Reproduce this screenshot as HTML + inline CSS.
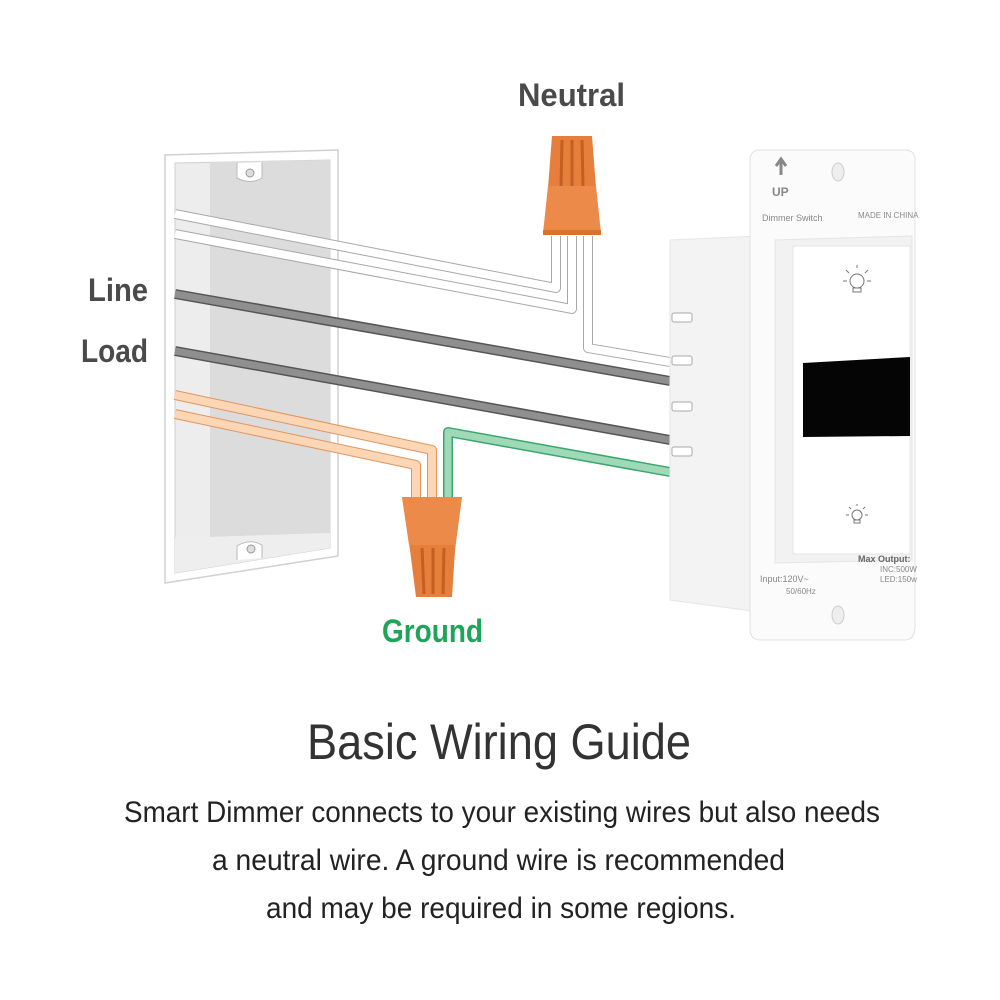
<!DOCTYPE html>
<html><head><meta charset="utf-8"><style>
html,body{margin:0;padding:0;background:#fff}
svg{display:block}
</style></head><body>
<svg width="1000" height="1000" viewBox="0 0 1000 1000" xmlns="http://www.w3.org/2000/svg">
<!-- box -->
<polygon points="165,155 338,150 338,556 165,583" fill="#fff" stroke="#d0d0d0" stroke-width="1.5"/>
<polygon points="175,163 330,160 330,548 175,573" fill="#ededed" stroke="#cfcfcf" stroke-width="1"/>
<polygon points="210,162 330,160 330,533 210,537" fill="#dcdcdc"/>
<polygon points="175,537 210,537 330,533 330,548 175,573" fill="#eeeeee"/>
<path d="M237,163 L237,178 Q250,185 262,178 L262,162" fill="#fff" stroke="#bbb" stroke-width="1"/>
<circle cx="250" cy="173" r="4" fill="#ddd" stroke="#999"/>
<path d="M237,560 L237,546 Q250,538 262,545 L262,558" fill="#fff" stroke="#bbb" stroke-width="1"/>
<circle cx="251" cy="549" r="4" fill="#ddd" stroke="#999"/>
<!-- wires -->
<g fill="none" stroke-linejoin="round">
<path d="M175,214 L556,288 L556,236" stroke="#a8a8a8" stroke-width="10"/>
<path d="M175,214 L556,288 L556,236" stroke="#fff" stroke-width="8"/>
<path d="M175,234 L572,309 L572,236" stroke="#a8a8a8" stroke-width="10"/>
<path d="M175,234 L572,309 L572,236" stroke="#fff" stroke-width="8"/>
<path d="M588,236 L588,348 L670,362" stroke="#a8a8a8" stroke-width="10"/>
<path d="M588,236 L588,348 L670,362" stroke="#fff" stroke-width="8"/>
<path d="M175,294 L670,381" stroke="#555" stroke-width="10"/>
<path d="M175,294 L670,381" stroke="#8f8f8f" stroke-width="7"/>
<path d="M175,351 L670,440" stroke="#555" stroke-width="10"/>
<path d="M175,351 L670,440" stroke="#8f8f8f" stroke-width="7"/>
<path d="M175,395 L432,450 L432,500" stroke="#e0955f" stroke-width="10"/>
<path d="M175,395 L432,450 L432,500" stroke="#fdd6b6" stroke-width="8"/>
<path d="M175,414 L416,465 L416,500" stroke="#e0955f" stroke-width="10"/>
<path d="M175,414 L416,465 L416,500" stroke="#fdd6b6" stroke-width="8"/>
<path d="M448,500 L448,432 L670,472" stroke="#3aa86b" stroke-width="10"/>
<path d="M448,500 L448,432 L670,472" stroke="#9fd9b8" stroke-width="7"/>
</g>
<!-- neutral connector -->
<polygon points="552,136 592,136 596,188 601,234 543,234 548,188" fill="#e67e3c"/>
<polygon points="548,186 596,186 601,234 543,234" fill="#ec8a4a"/>
<line x1="562" y1="140" x2="561" y2="186" stroke="#c45f22" stroke-width="3"/>
<line x1="572" y1="140" x2="572" y2="186" stroke="#c45f22" stroke-width="3"/>
<line x1="582" y1="140" x2="583" y2="186" stroke="#c45f22" stroke-width="3"/>
<rect x="543" y="230" width="58" height="5" fill="#d9722f"/>
<!-- ground connector -->
<polygon points="402,497 462,497 455,550 452,597 416,597 410,550" fill="#e67e3c"/>
<polygon points="402,497 462,497 455,545 409,545" fill="#ec8a4a"/>
<line x1="422" y1="548" x2="424" y2="594" stroke="#c45f22" stroke-width="3"/>
<line x1="433" y1="548" x2="433" y2="594" stroke="#c45f22" stroke-width="3"/>
<line x1="444" y1="548" x2="443" y2="594" stroke="#c45f22" stroke-width="3"/>
<!-- switch body -->
<polygon points="670,240 760,236 760,612 670,600" fill="#f3f3f3" stroke="#e6e6e6"/>
<g fill="#fff" stroke="#aaa" stroke-width="1">
<rect x="672" y="313" width="20" height="9" rx="2"/>
<rect x="672" y="356" width="20" height="9" rx="2"/>
<rect x="672" y="402" width="20" height="9" rx="2"/>
<rect x="672" y="447" width="20" height="9" rx="2"/>
</g>
<!-- plate -->
<path d="M760,150 L905,150 Q915,150 915,160 L915,625 Q915,640 905,640 L760,640 Q750,640 750,628 L750,160 Q750,150 760,150 Z" fill="#fbfbfb" stroke="#e0e0e0"/>
<polygon points="775,240 912,236 912,560 775,563" fill="#f2f2f2" stroke="#e4e4e4"/>
<rect x="793" y="246" width="117" height="308" fill="#fff" stroke="#e6e6e6"/>
<polygon points="803,363 910,357 910,436 803,437" fill="#050505"/>
<ellipse cx="838" cy="172" rx="6" ry="9" fill="#eee" stroke="#ccc"/>
<ellipse cx="838" cy="615" rx="6" ry="9" fill="#eee" stroke="#ccc"/>
<path d="M781,175 L781,160 M776,166 L781,159 L786,166" stroke="#888" stroke-width="3" fill="none"/>
<text x="772" y="196" font-family="Liberation Sans,sans-serif" font-size="12" fill="#888" font-weight="bold">UP</text>
<text x="762" y="221" font-family="Liberation Sans,sans-serif" font-size="9" fill="#888">Dimmer Switch</text>
<text x="858" y="218" font-family="Liberation Sans,sans-serif" font-size="8" fill="#888">MADE IN CHINA</text>
<text x="760" y="582" font-family="Liberation Sans,sans-serif" font-size="9" fill="#888">Input:120V~</text>
<text x="786" y="594" font-family="Liberation Sans,sans-serif" font-size="8" fill="#888">50/60Hz</text>
<text x="858" y="562" font-family="Liberation Sans,sans-serif" font-size="9" fill="#666" font-weight="bold">Max Output:</text>
<text x="880" y="572" font-family="Liberation Sans,sans-serif" font-size="8" fill="#888">INC:500W</text>
<text x="880" y="582" font-family="Liberation Sans,sans-serif" font-size="8" fill="#888">LED:150w</text>
<g fill="none" stroke="#777" stroke-width="1">
<circle cx="857" cy="281" r="7"/><rect x="853" y="288" width="8" height="4"/>
<path d="M857,268v-3 M847,281h-4 M867,281h4 M849,273l-3,-3 M865,273l3,-3"/>
<circle cx="857" cy="515" r="5"/><rect x="854" y="520" width="6" height="3"/>
<path d="M857,506v-2 M849,515h-3 M865,515h3 M851,509l-2,-2 M863,509l2,-2"/>
</g>
<!-- labels -->
<g font-family="Liberation Sans,sans-serif" font-weight="bold">
<text x="518" y="106" font-size="32" fill="#4a4a4a" textLength="107" lengthAdjust="spacingAndGlyphs">Neutral</text>
<text x="88" y="301" font-size="32" fill="#4a4a4a" textLength="60" lengthAdjust="spacingAndGlyphs">Line</text>
<text x="81" y="362" font-size="32" fill="#4a4a4a" textLength="67" lengthAdjust="spacingAndGlyphs">Load</text>
<text x="382" y="642" font-size="32" fill="#1ea559" textLength="101" lengthAdjust="spacingAndGlyphs">Ground</text>
</g>
<g font-family="Liberation Sans,sans-serif">
<text x="307" y="759" font-size="50" fill="#333" textLength="384" lengthAdjust="spacingAndGlyphs">Basic Wiring Guide</text>
<text x="124" y="822" font-size="30" fill="#222" textLength="756" lengthAdjust="spacingAndGlyphs">Smart Dimmer connects to your existing wires but also needs</text>
<text x="212" y="870" font-size="30" fill="#222" textLength="573" lengthAdjust="spacingAndGlyphs">a neutral wire. A ground wire is recommended</text>
<text x="266" y="918" font-size="30" fill="#222" textLength="470" lengthAdjust="spacingAndGlyphs">and may be required in some regions.</text>
</g>
</svg>
</body></html>
